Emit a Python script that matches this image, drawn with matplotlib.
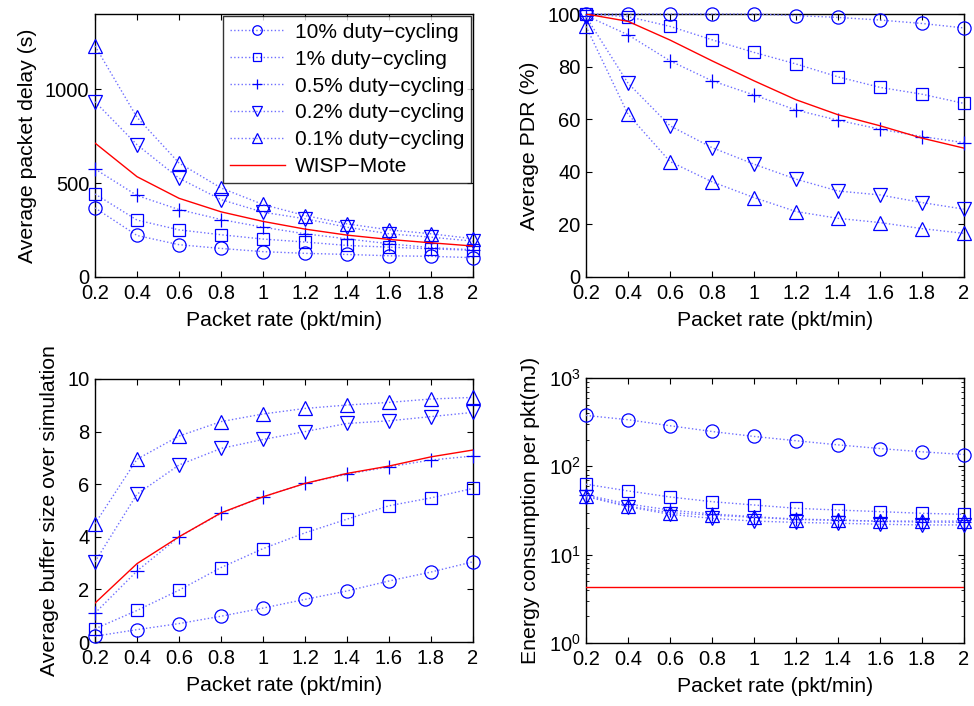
import matplotlib
matplotlib.use("Agg")
import matplotlib.pyplot as plt
from matplotlib.ticker import LogLocator, NullFormatter

plt.rcParams['font.family'] = ['Liberation Sans', 'DejaVu Sans']
plt.rcParams['font.size'] = 14.5
plt.rcParams['mathtext.fontset'] = 'custom'
plt.rcParams['mathtext.rm'] = 'Liberation Sans'

packet_rate = [0.2, 0.4, 0.6, 0.8, 1.0, 1.2, 1.4, 1.6, 1.8, 2.0]
x_tick_labels = ['0.2', '0.4', '0.6', '0.8', '1', '1.2', '1.4', '1.6', '1.8', '2']

series_names = ['10% duty\u2212cycling', '1% duty\u2212cycling', '0.5% duty\u2212cycling',
                '0.2% duty\u2212cycling', '0.1% duty\u2212cycling']
wisp_name = 'WISP\u2212Mote'

# Average packet delay (s)
delay_10 = [368, 221, 172, 152, 135, 126, 120, 113, 110, 103]
delay_1 = [442, 303, 251, 225, 202, 186, 168, 159, 150, 142]
delay_05 = [575, 434, 359, 306, 265, 230, 203, 177, 156, 145]
delay_02 = [933, 704, 526, 412, 345, 310, 265, 230, 212, 191]
delay_01 = [1230, 850, 607, 474, 386, 327, 283, 251, 230, 204]
delay_wisp = [713, 534, 419, 347, 296, 255, 223, 200, 182, 165]

# Average PDR (%)
pdr_10 = [100, 100, 100, 100, 100, 99.4, 98.7, 97.7, 96.4, 94.7]
pdr_1 = [100, 99, 95.3, 90.2, 85.4, 81, 76.1, 72.1, 69.5, 66]
pdr_05 = [99.4, 92.1, 82.2, 74.6, 69.2, 63.5, 59.6, 56.2, 53.4, 51.1]
pdr_02 = [99, 73.7, 57.5, 49.2, 42.9, 37.2, 32.7, 31.2, 28.3, 25.8]
pdr_01 = [95.3, 61.9, 43.9, 36.2, 30.2, 24.9, 22.3, 20.7, 18.4, 16.6]
pdr_wisp = [100, 97.2, 90.1, 82.2, 74.6, 67.4, 61.7, 57.5, 52.8, 49]

# Average buffer size over simulation
buf_10 = [0.22, 0.47, 0.70, 0.98, 1.29, 1.62, 1.94, 2.32, 2.66, 3.05]
buf_1 = [0.5, 1.2, 1.97, 2.83, 3.55, 4.15, 4.67, 5.18, 5.48, 5.84]
buf_05 = [1.1, 2.7, 4.0, 4.89, 5.52, 6.03, 6.38, 6.66, 6.92, 7.07]
buf_02 = [3.05, 5.62, 6.73, 7.36, 7.70, 8.0, 8.31, 8.41, 8.57, 8.73]
buf_01 = [4.5, 6.95, 7.83, 8.38, 8.67, 8.88, 9.01, 9.11, 9.24, 9.3]
buf_wisp = [1.48, 2.98, 4.0, 4.91, 5.52, 6.03, 6.41, 6.69, 7.04, 7.3]

# Energy consumption per packet (mJ)
energy_10 = [377, 337, 288, 248, 218, 195, 175, 159, 146, 136]
energy_1 = [62.7, 52.7, 45, 39.8, 36.5, 33.5, 32, 30.7, 29.4, 28.6]
energy_05 = [47.5, 37.5, 32, 28.9, 26.9, 25.3, 24.7, 23.8, 23.4, 23.2]
energy_02 = [45.5, 34.9, 28.6, 25.8, 24.0, 23.2, 22.7, 22.1, 21.7, 21.7]
energy_01 = [46.2, 35.6, 29.9, 28.0, 26.5, 25.0, 24.5, 24.0, 24.0, 24.0]
energy_wisp = [4.32, 4.32, 4.32, 4.32, 4.32, 4.32, 4.32, 4.32, 4.32, 4.32]

markers = ['o', 's', '+', 'v', '^']
marker_sizes = [9.5, 8.5, 10, 10.5, 10.5]
line_blue = '#6f6fff'
mark_blue = '#0000ff'

fig = plt.figure(figsize=(9.74, 7.06), dpi=100)
W, H = 974, 706


def make_axes(left, top, right, bottom):
    return fig.add_axes([left / W, 1 - bottom / H, (right - left) / W, (bottom - top) / H])


ax_delay = make_axes(95, 14, 473, 277)
ax_pdr = make_axes(586, 14, 964, 277)
ax_buf = make_axes(95, 379, 473, 642)
ax_energy = make_axes(586, 378, 964, 643)

panels = [
    (ax_delay, [delay_10, delay_1, delay_05, delay_02, delay_01], delay_wisp,
     'Average packet delay (s)', (0, 1400), [0, 500, 1000]),
    (ax_pdr, [pdr_10, pdr_1, pdr_05, pdr_02, pdr_01], pdr_wisp,
     'Average PDR (%)', (0, 100), [0, 20, 40, 60, 80, 100]),
    (ax_buf, [buf_10, buf_1, buf_05, buf_02, buf_01], buf_wisp,
     'Average buffer size over simulation', (0, 10), [0, 2, 4, 6, 8, 10]),
    (ax_energy, [energy_10, energy_1, energy_05, energy_02, energy_01], energy_wisp,
     'Energy consumption per pkt(mJ)', (1, 1000), None),
]

for ax, series, wisp, ylabel, ylim, yticks in panels:
    for vals, name, mk, ms in zip(series, series_names, markers, marker_sizes):
        ax.plot(packet_rate, vals, linestyle=':', color=line_blue, linewidth=1.0,
                marker=mk, markersize=ms, markerfacecolor='none',
                markeredgecolor=mark_blue, markeredgewidth=0.9, label=name,
                clip_on=False, zorder=3)
    ax.plot(packet_rate, wisp, color='#ff0000', linewidth=1.0, label=wisp_name, zorder=4)
    ax.set_xlim(0.2, 2.0)
    ax.set_xticks(packet_rate)
    ax.set_xticklabels(x_tick_labels)
    ax.set_xlabel('Packet rate (pkt/min)', fontsize=15.3, labelpad=6)
    ax.set_ylabel(ylabel, fontsize=15.3, labelpad=6)
    if ylim[0] > 0:
        ax.set_yscale('log')
        ax.set_ylim(*ylim)
        ax.yaxis.set_major_locator(LogLocator(base=10, numticks=10))
        ax.yaxis.set_minor_locator(LogLocator(base=10, subs=range(2, 10), numticks=20))
        ax.yaxis.set_minor_formatter(NullFormatter())
    else:
        ax.set_ylim(*ylim)
        ax.set_yticks(yticks)
    ax.tick_params(direction='in', top=True, right=True, length=4, width=0.8,
                   labelsize=14.5)
    ax.tick_params(axis='x', pad=5)
    ax.tick_params(axis='y', pad=4)
    ax.tick_params(which='minor', direction='in', right=True, length=2, width=0.6)
    for sp in ax.spines.values():
        sp.set_linewidth(1.0)
        sp.set_color('black')

leg = ax_delay.legend(loc='upper right', bbox_to_anchor=(1.0, 1.0), fontsize=15,
                      frameon=True, fancybox=False, edgecolor='black',
                      handlelength=2.65, handletextpad=0.48, borderpad=0.32,
                      labelspacing=0.38, borderaxespad=0.1, markerscale=0.72)
leg.get_frame().set_linewidth(1.0)

fig.savefig('out.png', dpi=100, facecolor='white')
